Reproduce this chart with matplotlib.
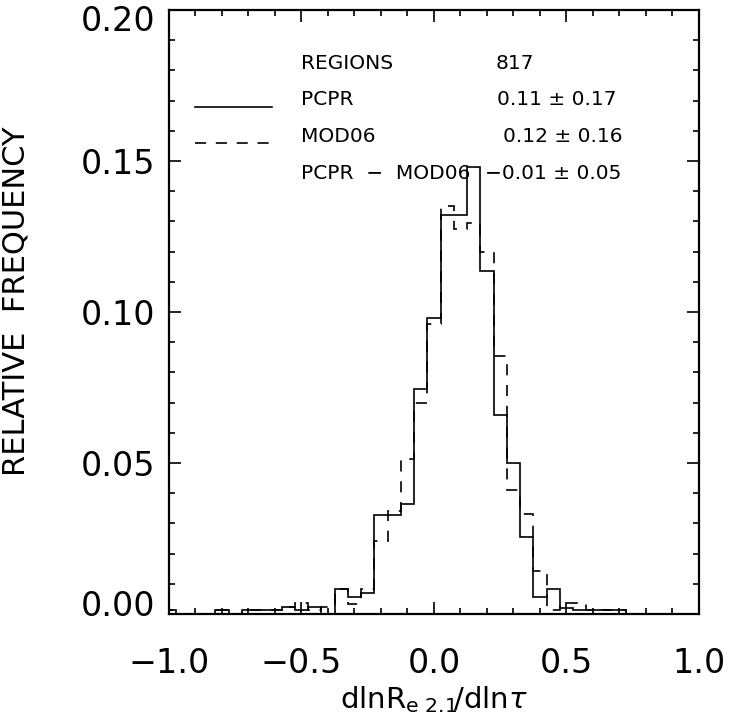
"""
Relative frequency histogram of dlnRe/dlntau, PCPR vs MOD06 (IDL style step plot)
"""

import numpy as np
import matplotlib
matplotlib.use('Agg')
import matplotlib.pyplot as plt
import matplotlib.transforms as mtransforms
from matplotlib.ticker import MultipleLocator, FuncFormatter

plt.rcParams['font.family'] = 'DejaVu Sans'
plt.rcParams['mathtext.fontset'] = 'dejavusans'
plt.rcParams['lines.scale_dashes'] = False

# bin centres, 0.05 wide, from -1.0 to 1.0
bin_centers = np.round(np.arange(-1.0, 1.0001, 0.05), 2)

# PCPR (solid)
pcpr_freq = [0.0012, 0.0, 0.0, 0.0, 0.0012, 0.0, 0.0012, 0.0012, 0.0012, 0.0024,
             0.0012, 0.0024, 0.0, 0.0083, 0.0055, 0.0070, 0.0328, 0.0328, 0.0364, 0.0745,
             0.0980, 0.1320, 0.1320, 0.1480, 0.1136, 0.0659, 0.0500, 0.0255, 0.0056, 0.0083,
             0.0020, 0.0012, 0.0012, 0.0012, 0.0012, 0.0, 0.0, 0.0, 0.0, 0.0, 0.0]

# MOD06 (dashed)
mod06_freq = [0.0012, 0.0, 0.0, 0.0, 0.0012, 0.0, 0.0012, 0.0012, 0.0012, 0.0024,
              0.0035, 0.0012, 0.0024, 0.0083, 0.0033, 0.0083, 0.0240, 0.0340, 0.0513, 0.0700,
              0.0960, 0.1350, 0.1275, 0.1295, 0.1200, 0.0854, 0.0410, 0.0330, 0.0142, 0.0012,
              0.0035, 0.0035, 0.0012, 0.0012, 0.0012, 0.0, 0.0, 0.0, 0.0, 0.0, 0.0]

n_regions = 817
stats_rows = [('PCPR', '0.11 ± 0.17'),
              ('MOD06', '0.12 ± 0.16'),
              ('PCPR  −  MOD06', '−0.01 ± 0.05')]

half = 0.025
edges = np.append(bin_centers - half, bin_centers[-1] + half)

fig = plt.figure(figsize=(7.30, 7.23), dpi=100)
ax = fig.add_axes([0.2315, 0.1508, 0.726, 0.8354])

ax.stairs(pcpr_freq, edges, color='black', linewidth=1.2, baseline=None)
ax.stairs(mod06_freq, edges, color='black', linewidth=1.2, baseline=None,
          linestyle=(0, (8, 7)))

ax.set_xlim(-1.0, 1.0)
ax.set_ylim(0.0, 0.20)

ax.xaxis.set_major_locator(MultipleLocator(0.5))
ax.xaxis.set_minor_locator(MultipleLocator(0.1))
ax.yaxis.set_major_locator(MultipleLocator(0.05))
ax.yaxis.set_minor_locator(MultipleLocator(0.01))
ax.xaxis.set_major_formatter(FuncFormatter(lambda v, _: f'{v:.1f}'.replace('-', '\u2212')))
ax.yaxis.set_major_formatter(FuncFormatter(lambda v, _: f'{v:.2f}'))

ax.tick_params(which='both', direction='in', top=True, right=True, width=1.2, color='black')
ax.tick_params(which='major', length=8.5)
ax.tick_params(which='minor', length=4.5)
ax.tick_params(axis='x', which='major', labelsize=24, pad=24)
ax.tick_params(axis='y', which='major', labelsize=24, pad=10)

for spine in ax.spines.values():
    spine.set_linewidth(1.6)

ax.set_ylabel('RELATIVE  FREQUENCY', fontsize=22)
ax.yaxis.set_label_coords(-0.262, 0.517)
ax.set_xlabel(r'$\mathrm{dlnR}_{\mathrm{e}\ \mathrm{2.1}}\!/\mathrm{dln}\tau$', fontsize=21,
              va='center')
ax.xaxis.set_label_coords(0.5, -0.142)

# legend block
fs = 14.5
ax.text(0.249, 0.9106, 'REGIONS', transform=ax.transAxes, fontsize=fs, va='center')
ax.text(0.617, 0.9106, str(n_regions), transform=ax.transAxes, fontsize=fs, va='center')

row_y = [0.851, 0.790, 0.730]
value_x = [0.619, 0.630, 0.596]
for (name, val), y, vx in zip(stats_rows, row_y, value_x):
    ax.text(0.249, y, name, transform=ax.transAxes, fontsize=fs, va='center')
    ax.text(vx, y, val, transform=ax.transAxes, fontsize=fs, va='center')

ax.plot([0.049, 0.194], [0.839, 0.839], transform=ax.transAxes, color='black', linewidth=1.2)
ax.plot([0.049, 0.194], [0.780, 0.780], transform=ax.transAxes, color='black', linewidth=1.2,
        linestyle=(0, (8, 7)))

# IDL puts the end labels a little inside the axis range
fig.canvas.draw()
label_shift = {0.0: 8, 0.20: -6}
for tick in ax.yaxis.get_major_ticks():
    v = round(tick.get_loc(), 2)
    dy = label_shift.get(v, 0) / 72.0
    off = mtransforms.ScaledTranslation(0, dy, fig.dpi_scale_trans)
    tick.label1.set_transform(tick.label1.get_transform() + off)

plt.savefig('out.png', dpi=100)
